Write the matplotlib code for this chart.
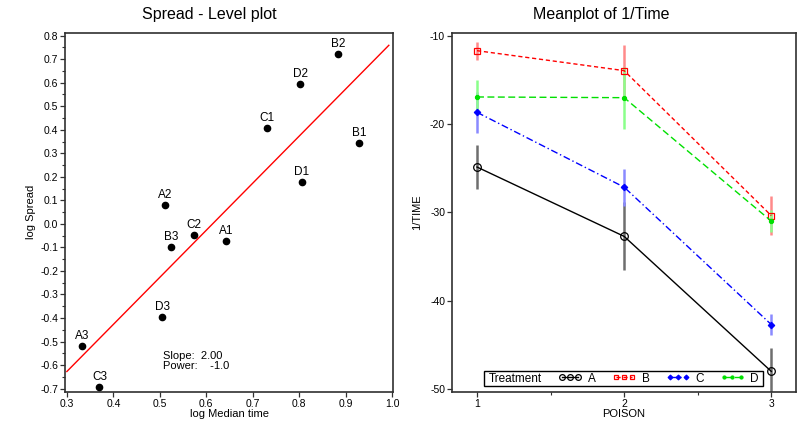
import matplotlib
matplotlib.use("Agg")
import matplotlib.pyplot as plt
from matplotlib.ticker import MultipleLocator, FormatStrFormatter
from matplotlib.offsetbox import HPacker, DrawingArea
import numpy as np

plt.rcParams['font.family'] = ['Liberation Sans', 'DejaVu Sans']
plt.rcParams['axes.unicode_minus'] = False

# ---- Spread-level data (log median time vs log spread per cell) ----
cell_labels = ["B2", "D2", "C1", "B1", "D1", "A2", "C2", "A1", "B3", "D3", "A3", "C3"]
log_median = [0.883, 0.802, 0.731, 0.929, 0.806, 0.511, 0.574, 0.643, 0.525, 0.505, 0.332, 0.370]
log_spread = [0.722, 0.595, 0.406, 0.342, 0.176, 0.080, -0.046, -0.073, -0.097, -0.397, -0.520, -0.693]
slope = 2.00
power = 1 - slope

# ---- Mean plot of 1/Time by poison and treatment ----
poison = [1, 2, 3]
treatments = ["A", "B", "C", "D"]
means = {
    "A": [-24.87, -32.72, -48.00],
    "B": [-11.70, -13.96, -30.37],
    "C": [-18.68, -27.15, -42.70],
    "D": [-16.94, -17.02, -30.99],
}
errs = {
    "A": [2.50, 3.85, 2.65],
    "B": [1.00, 2.90, 2.25],
    "C": [2.30, 2.10, 1.20],
    "D": [1.90, 3.50, 1.25],
}

styles = {
    "A": dict(color="black", ecolor="#6e6e6e", ls="-", marker="o", ms=5.5, mfc="none", mew=0.9),
    "B": dict(color="#ff0000", ecolor="#ff8a8a", ls=(0, (3, 2)), marker="s", ms=4.8, mfc="none", mew=0.9),
    "C": dict(color="#0000ff", ecolor="#8a8aff", ls=(0, (5, 2, 1, 2)), marker="D", ms=3.3, mfc="#0000ff", mew=0.8),
    "D": dict(color="#00e000", ecolor="#8aff8a", ls=(0, (5, 2.5)), marker="o", ms=3.0, mfc="#00e000", mew=0.8),
}

W, H = 802, 422
fig = plt.figure(figsize=(W / 100, H / 100), dpi=100)

spine_c = "#303030"
tick_fs = 7.5
lab_fs = 8


def box_axes(rect):
    ax = fig.add_axes(rect)
    for s in ax.spines.values():
        s.set_linewidth(1.2)
        s.set_color(spine_c)
    ax.tick_params(which="both", direction="out", colors=spine_c, labelcolor="black",
                   labelsize=tick_fs, pad=1.5)
    ax.tick_params(which="major", length=3.5, width=0.9)
    ax.tick_params(which="minor", length=2.2, width=0.8)
    return ax


# ---------------- Left: Spread-level plot ----------------
ax1 = box_axes([65 / W, 1 - 391.7 / H, (393 - 65) / W, (391.7 - 33) / H])
ax1.set_xlim(0.296, 1.002)
ax1.set_ylim(-0.713, 0.811)
ax1.xaxis.set_major_locator(MultipleLocator(0.1))
ax1.yaxis.set_major_locator(MultipleLocator(0.1))
ax1.yaxis.set_minor_locator(MultipleLocator(0.05))
ax1.xaxis.set_major_formatter(FormatStrFormatter("%.1f"))
ax1.yaxis.set_major_formatter(FormatStrFormatter("%.1f"))

ax1.plot(log_median, log_spread, "o", color="black", ms=4.5, zorder=3)
for lab, x, y in zip(cell_labels, log_median, log_spread):
    ax1.annotate(lab, (x, y), xytext=(0, 3), textcoords="offset points",
                 ha="center", va="bottom", fontsize=8.5)

# Fitted spread-level line with the stated slope, through the centroid
intercept = np.mean(log_spread) - slope * np.mean(log_median)
xf = np.array([0.3, 0.993])
ax1.plot(xf, intercept + slope * xf, color="#ff0000", lw=1.0, zorder=2)

ax1.text(0.507, -0.582, f"Slope:  {slope:.2f}\nPower:    {power:.1f}", fontsize=8,
         ha="left", va="center", linespacing=0.95)

ax1.set_xlabel("log Median time", fontsize=lab_fs, labelpad=0.5)
ax1.set_ylabel("log Spread", fontsize=lab_fs, labelpad=3)
fig.text(209 / W, 1 - 15 / H, "Spread - Level plot", fontsize=11.5, ha="center", va="center")

# ---------------- Right: Mean plot ----------------
ax2 = box_axes([452 / W, 1 - 391.7 / H, (795.7 - 452) / W, (391.7 - 33) / H])
ax2.set_xlim(0.83, 3.166)
ax2.set_ylim(-50.3, -9.7)
ax2.set_xticks(poison)
ax2.xaxis.set_minor_locator(MultipleLocator(0.5))
ax2.yaxis.set_major_locator(MultipleLocator(10))

handles = []
for t in treatments:
    st = styles[t]
    ax2.errorbar(poison, means[t], yerr=errs[t], fmt="none", ecolor=st["ecolor"],
                 elinewidth=1.8, capsize=0, zorder=2)
    line, = ax2.plot(poison, means[t], color=st["color"], ls=st["ls"], lw=1.0,
                     marker=st["marker"], ms=st["ms"], mfc=st["mfc"], mec=st["color"],
                     mew=st["mew"], zorder=3)
    handles.append(line)

ax2.set_xlabel("POISON", fontsize=lab_fs, labelpad=0.5)
ax2.set_ylabel("1/TIME", fontsize=lab_fs, labelpad=6)
fig.text(601 / W, 1 - 15 / H, "Meanplot of 1/Time", fontsize=11.5, ha="center", va="center")

# Legend laid out in one row, with its title to the left of the entries
leg = ax2.legend(handles, treatments, title="Treatment", ncol=4, loc="lower center",
                 bbox_to_anchor=(0.5, 0.016), fontsize=8.5, title_fontsize=8.5,
                 numpoints=3, markerscale=0.75, handlelength=2.0, handletextpad=0.5,
                 columnspacing=1.4, borderpad=0.1, borderaxespad=0.0, fancybox=False,
                 framealpha=1, edgecolor="black")
leg.get_frame().set_linewidth(1.0)
fs = leg._fontsize
row = HPacker(pad=0.12 * fs, sep=0.0, align="center",
              children=[DrawingArea(0.28 * fs, 1.0),
                        HPacker(pad=0.0, sep=1.35 * fs, align="center",
                                children=[leg._legend_title_box, leg._legend_handle_box]),
                        DrawingArea(0.28 * fs, 1.0)])
row.set_figure(fig)
row.axes = ax2
leg._legend_box = row
row.set_offset(leg._findoffset)

fig.savefig("out.png", dpi=100)
